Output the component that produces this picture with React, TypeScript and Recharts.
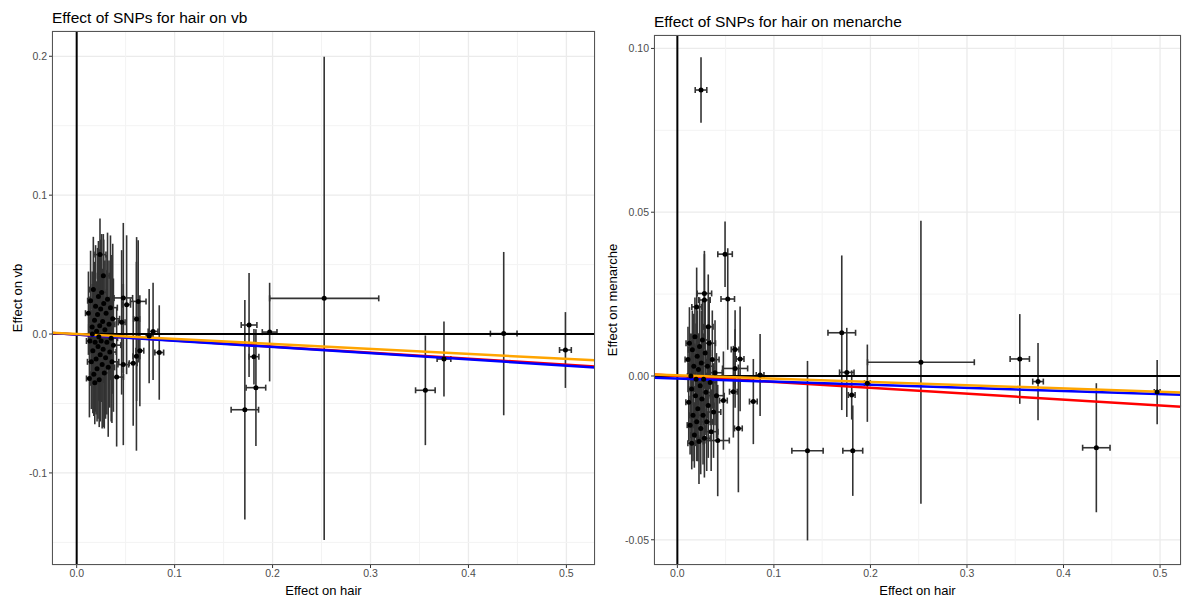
import React from "react"
import { ScatterChart, Scatter, XAxis, YAxis, CartesianGrid, ReferenceLine, ErrorBar } from "recharts"

const FONT = "'Liberation Sans', Arial, sans-serif"

// SNP effects on hair (x) and on vb (y), with 95% CI half-widths
const vbHair = [
    0.0238, 0.0272, 0.0476, 0.0628, 0.051, 0.0459, 0.0612, 0.078, 0.0843, 0.0645, 0.061, 0.0476, 0.0577, 0.0408, 0.074,
    0.012, 0.0135, 0.0142, 0.015, 0.0158, 0.0165, 0.017, 0.0175, 0.0182, 0.0188, 0.0193, 0.0198, 0.0203, 0.0208, 0.0213,
    0.0218, 0.0222, 0.0226, 0.023, 0.0235, 0.024, 0.0245, 0.025, 0.0255, 0.026, 0.0265, 0.027, 0.0276, 0.0282, 0.0288,
    0.0295, 0.03, 0.0308, 0.0315, 0.0322, 0.033, 0.0338, 0.0345, 0.0352, 0.036, 0.0368, 0.0375, 0.013, 0.016, 0.0185,
    0.1717, 0.176, 0.181, 0.183, 0.197, 0.2527, 0.356, 0.375, 0.436, 0.499,
]
const vbHairCi = [
    0.0061, 0.006, 0.0095, 0.008, 0.004, 0.0035, 0.003, 0.005, 0.0045, 0.004, 0.0035, 0.0055, 0.004, 0.007, 0.003,
    0.003, 0.0035, 0.003, 0.004, 0.0035, 0.003, 0.004, 0.0035, 0.0045, 0.004, 0.0035, 0.004, 0.0045, 0.004, 0.005,
    0.0045, 0.004, 0.005, 0.0045, 0.005, 0.0045, 0.005, 0.0055, 0.005, 0.0055, 0.005, 0.0055, 0.006, 0.0055, 0.006,
    0.0055, 0.006, 0.0065, 0.006, 0.0065, 0.006, 0.0065, 0.007, 0.0065, 0.007, 0.007, 0.0075, 0.003, 0.0035, 0.004,
    0.014, 0.008, 0.005, 0.01, 0.0075, 0.0557, 0.01, 0.007, 0.0136, 0.006,
]
const vb = [
    0.0572, 0.042, 0.026, 0.0235, 0.0211, 0.0084, 0.0108, 0.0019, -0.0133, -0.012, -0.016, -0.022, -0.021, -0.031, -0.0015,
    0.015, -0.005, 0.024, -0.02, 0.005, -0.012, 0.032, -0.029, 0.01, -0.006, 0.02, -0.018, 0.002, -0.025, 0.014,
    -0.009, 0.027, -0.002, -0.033, 0.006, -0.015, 0.018, -0.005, 0.03, -0.022, 0.009, -0.011, 0.022, -0.028, 0.003,
    -0.017, 0.015, -0.006, 0.025, -0.024, 0.007, -0.013, 0.019, -0.003, -0.02, 0.011, -0.008, -0.032, 0.0, -0.035,
    -0.0545, 0.0065, -0.0163, -0.0386, 0.0014, 0.0257, -0.0405, -0.018, 0.0003, -0.0115,
]
const vbCi = [
    0.026, 0.03, 0.054, 0.044, 0.05, 0.052, 0.059, 0.035, 0.034, 0.04, 0.068, 0.058, 0.045, 0.05, 0.034,
    0.03, 0.032, 0.036, 0.034, 0.04, 0.045, 0.038, 0.03, 0.042, 0.05, 0.044, 0.04, 0.036, 0.038, 0.048,
    0.052, 0.04, 0.046, 0.034, 0.055, 0.048, 0.05, 0.044, 0.042, 0.046, 0.038, 0.056, 0.046, 0.04, 0.05,
    0.044, 0.042, 0.052, 0.048, 0.05, 0.046, 0.04, 0.052, 0.06, 0.044, 0.054, 0.048, 0.028, 0.036, 0.03,
    0.079, 0.0375, 0.02, 0.042, 0.0355, 0.174, 0.0395, 0.027, 0.0588, 0.0273,
]

// SNP effects on hair (x) and on menarche (y)
const menHair = [
    0.0245, 0.0494, 0.028, 0.0522, 0.028, 0.02, 0.032, 0.0598, 0.065, 0.0598, 0.0857, 0.058, 0.0787, 0.0477, 0.0632,
    0.0418, 0.0149, 0.011, 0.0118, 0.0125, 0.0132, 0.014, 0.0148, 0.0155, 0.0162, 0.017, 0.0176, 0.0182, 0.0188, 0.0194,
    0.02, 0.0206, 0.0212, 0.0218, 0.0224, 0.023, 0.0236, 0.0242, 0.0248, 0.0254, 0.026, 0.0266, 0.0272, 0.028, 0.0288,
    0.0296, 0.0304, 0.0312, 0.032, 0.033, 0.034, 0.035, 0.0362, 0.0375, 0.039, 0.0405,
    0.1348, 0.1703, 0.1755, 0.1806, 0.1817, 0.1968, 0.2523, 0.3547, 0.3736, 0.434, 0.497,
]
const menHairCi = [
    0.006, 0.0075, 0.0075, 0.007, 0.006, 0.005, 0.005, 0.004, 0.004, 0.013, 0.004, 0.004, 0.004, 0.004, 0.004,
    0.012, 0.004, 0.003, 0.003, 0.0035, 0.003, 0.0035, 0.003, 0.004, 0.0035, 0.004, 0.0035, 0.004, 0.0045, 0.004,
    0.0045, 0.004, 0.0045, 0.005, 0.0045, 0.005, 0.0045, 0.005, 0.0055, 0.005, 0.0055, 0.005, 0.0055, 0.006, 0.0055,
    0.006, 0.006, 0.0065, 0.006, 0.0065, 0.0065, 0.007, 0.007, 0.0075, 0.0075, 0.008,
    0.0162, 0.0143, 0.0075, 0.0035, 0.0103, 0.003, 0.0553, 0.01, 0.0055, 0.0142, 0.003,
]
const men = [
    0.0873, 0.0372, 0.0252, 0.0235, 0.0232, 0.0211, 0.015, 0.0081, 0.0052, 0.0023, 0.0003, -0.0048, -0.0078, -0.0075, -0.016,
    -0.0197, -0.0205, 0.005, -0.008, 0.01, -0.015, 0.0, -0.004, 0.008, -0.012, 0.003, -0.018, 0.012, -0.006, -0.001,
    -0.014, 0.006, -0.01, 0.002, -0.02, 0.009, -0.003, -0.016, 0.004, -0.007, 0.011, -0.012, -0.001, -0.019, 0.007,
    -0.005, -0.014, 0.003, -0.009, 0.01, -0.002, -0.017, 0.005, -0.011, 0.001, -0.006,
    -0.0228, 0.0132, 0.0011, -0.0058, -0.0228, -0.0022, 0.0042, 0.0052, -0.0017, -0.0219, -0.0049,
]
const menCi = [
    0.01, 0.01, 0.013, 0.0155, 0.014, 0.012, 0.016, 0.012, 0.016, 0.012, 0.0125, 0.014, 0.013, 0.015, 0.0195,
    0.017, 0.008, 0.01, 0.012, 0.011, 0.009, 0.013, 0.015, 0.012, 0.014, 0.016, 0.01, 0.012, 0.013, 0.017,
    0.012, 0.014, 0.016, 0.011, 0.013, 0.015, 0.012, 0.014, 0.016, 0.013, 0.012, 0.015, 0.014, 0.012, 0.016,
    0.013, 0.015, 0.012, 0.016, 0.014, 0.013, 0.012, 0.015, 0.014, 0.016, 0.013,
    0.0274, 0.0236, 0.0136, 0.0075, 0.0138, 0.0118, 0.0432, 0.0137, 0.0118, 0.0197, 0.0098,
]

const xTicks = [0, 0.1, 0.2, 0.3, 0.4, 0.5]
const xMinor = [0.05, 0.15, 0.25, 0.35, 0.45]
const vbTicks = [-0.1, 0, 0.1, 0.2]
const vbMinor = [-0.15, -0.05, 0.05, 0.15]
const menTicks = [-0.05, 0, 0.05, 0.1]
const menMinor = [-0.025, 0.025, 0.075]

// MR fit lines (red, blue, orange): intercept + slope * hair
const lineColors = ["#FF0000", "#0000FF", "#FFA500"]
const vbIntercepts = [-0.0003, -0.0003, 0.0001]
const vbSlopes = [-0.0435, -0.045, -0.036]
const menIntercepts = [0.0, -0.0008, 0.0002]
const menSlopes = [-0.018, -0.0095, -0.01]

const HEIGHT = 601
const X_AXIS_H = 36
const Y_AXIS_W = 40

function Dot(props: any) {
    return <circle cx={props.cx} cy={props.cy} r={2.5} fill="#000" />
}

function Panel(props: any) {
    const { left, width, margin, title, titleTop, yLabel, yLabelX, hair, hairCi, outcome, outcomeCi,
        xDomain, yDomain, yTicks, yMinor, yDigits, intercepts, slopes } = props
    const data = hair.map((x: number, i: number) => ({ x, y: outcome[i], xe: hairCi[i], ye: outcomeCi[i] }))
    const plotLeft = margin.left + Y_AXIS_W
    const plotRight = width - margin.right
    const plotTop = margin.top
    const plotBottom = HEIGHT - margin.bottom - X_AXIS_H
    const tickStyle = { fill: "#4D4D4D", fontSize: 10.5, fontFamily: FONT }

    return (
        <div style={{ position: "absolute", left, top: 0, width, height: HEIGHT }}>
            <ScatterChart width={width} height={HEIGHT} margin={margin}>
                <CartesianGrid stroke="#EBEBEB" strokeWidth={1.3} />
                {xMinor.map((v) => (
                    <ReferenceLine key={"mx" + v} x={v} stroke="#F3F3F3" strokeWidth={1} />
                ))}
                {yMinor.map((v: number) => (
                    <ReferenceLine key={"my" + v} y={v} stroke="#F3F3F3" strokeWidth={1} />
                ))}
                <XAxis
                    type="number"
                    dataKey="x"
                    domain={xDomain}
                    allowDataOverflow
                    ticks={xTicks}
                    tickFormatter={(v) => v.toFixed(1)}
                    tick={tickStyle}
                    tickLine={{ stroke: "#333" }}
                    tickSize={3}
                    tickMargin={2}
                    axisLine={false}
                    height={X_AXIS_H}
                />
                <YAxis
                    type="number"
                    dataKey="y"
                    domain={yDomain}
                    allowDataOverflow
                    ticks={yTicks}
                    tickFormatter={(v) => v.toFixed(yDigits)}
                    tick={tickStyle}
                    tickLine={{ stroke: "#333" }}
                    tickSize={3}
                    tickMargin={2}
                    axisLine={false}
                    width={Y_AXIS_W}
                />
                <Scatter data={data} shape={Dot} isAnimationActive={false}>
                    <ErrorBar dataKey="ye" direction="y" width={0} stroke="#333" strokeWidth={1.6} />
                    <ErrorBar dataKey="xe" direction="x" width={3} stroke="#333" strokeWidth={1.6} />
                </Scatter>
                <ReferenceLine x={0} stroke="#000" strokeWidth={2} />
                <ReferenceLine y={0} stroke="#000" strokeWidth={2} />
                {lineColors.map((c, i) => (
                    <ReferenceLine
                        key={c}
                        ifOverflow="visible"
                        stroke={c}
                        strokeWidth={2.5}
                        segment={[
                            { x: xDomain[0], y: intercepts[i] + slopes[i] * xDomain[0] },
                            { x: xDomain[1], y: intercepts[i] + slopes[i] * xDomain[1] },
                        ]}
                    />
                ))}
            </ScatterChart>
            <div
                style={{
                    position: "absolute", left: plotLeft, top: plotTop,
                    width: plotRight - plotLeft, height: plotBottom - plotTop,
                    border: "1px solid #555", boxSizing: "border-box", pointerEvents: "none",
                }}
            />
            <div style={{ position: "absolute", left: plotLeft, top: titleTop, fontFamily: FONT, fontSize: 15.5, lineHeight: "18px", color: "#000", whiteSpace: "nowrap" }}>
                {title}
            </div>
            <div
                style={{
                    position: "absolute", left: yLabelX, top: (plotTop + plotBottom) / 2,
                    transform: "translate(-50%, -50%) rotate(-90deg)",
                    fontFamily: FONT, fontSize: 13, lineHeight: "16px", color: "#000", whiteSpace: "nowrap",
                }}
            >
                {yLabel}
            </div>
            <div
                style={{
                    position: "absolute", left: (plotLeft + plotRight) / 2, top: 583,
                    transform: "translateX(-50%)",
                    fontFamily: FONT, fontSize: 13, lineHeight: "16px", color: "#000", whiteSpace: "nowrap",
                }}
            >
                Effect on hair
            </div>
        </div>
    )
}

export default function App() {
    return (
        <div style={{ position: "absolute", left: 0, top: 0, width: 1182, height: HEIGHT, background: "#fff", overflow: "hidden" }}>
            <Panel
                left={0}
                width={600}
                margin={{ top: 31, right: 5, bottom: 0, left: 12 }}
                title="Effect of SNPs for hair on vb"
                titleTop={8.5}
                yLabel="Effect on vb"
                yLabelX={17.5}
                hair={vbHair}
                hairCi={vbHairCi}
                outcome={vb}
                outcomeCi={vbCi}
                xDomain={[-0.0252, 0.5292]}
                yDomain={[-0.1663, 0.2182]}
                yTicks={vbTicks}
                yMinor={vbMinor}
                yDigits={1}
                intercepts={vbIntercepts}
                slopes={vbSlopes}
            />
            <Panel
                left={600}
                width={582}
                margin={{ top: 35, right: 1, bottom: 0, left: 14 }}
                title="Effect of SNPs for hair on menarche"
                titleTop={12.5}
                yLabel="Effect on menarche"
                yLabelX={13.3}
                hair={menHair}
                hairCi={menHairCi}
                outcome={men}
                outcomeCi={menCi}
                xDomain={[-0.0242, 0.5217]}
                yDomain={[-0.0577, 0.1041]}
                yTicks={menTicks}
                yMinor={menMinor}
                yDigits={2}
                intercepts={menIntercepts}
                slopes={menSlopes}
            />
        </div>
    )
}
